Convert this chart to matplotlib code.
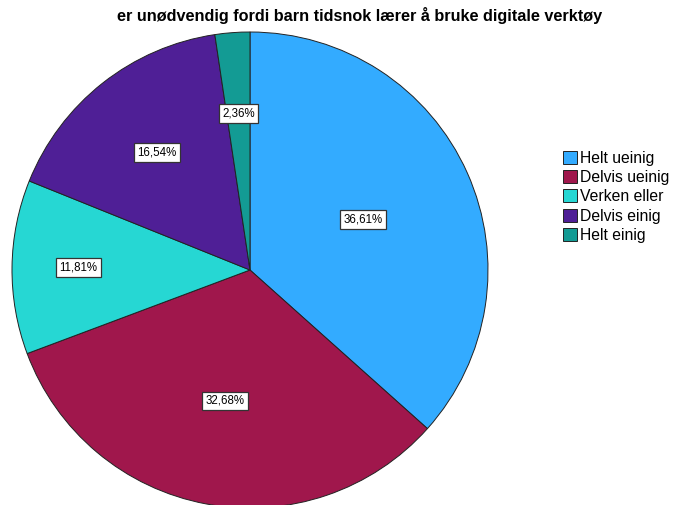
import numpy as np
import matplotlib
matplotlib.use("Agg")
import matplotlib.pyplot as plt

plt.rcParams["font.family"] = ["Liberation Sans", "DejaVu Sans"]

title = "er unødvendig fordi barn tidsnok lærer å bruke digitale verktøy"
categories = ["Helt ueinig", "Delvis ueinig", "Verken eller", "Delvis einig", "Helt einig"]
percent = [36.61, 32.68, 11.81, 16.54, 2.36]
colors = ["#33abff", "#a0174c", "#26d7d3", "#4f1f96", "#139b94"]
label_r = [0.52, 0.56, 0.72, 0.63, 0.66]   # SPSS puts labels at uneven radii

fig = plt.figure(figsize=(6.8, 5.05), dpi=100)
W, H = 680, 505
cx, cy, R = 250, 270, 238
ax = fig.add_axes([(cx - R) / W, (H - cy - R) / H, 2 * R / W, 2 * R / H])

wedges, _ = ax.pie(percent, colors=colors, startangle=90, counterclock=False,
                   radius=1, wedgeprops=dict(edgecolor="#222222", linewidth=0.7))
ax.set_xlim(-1, 1); ax.set_ylim(-1, 1); ax.set_aspect("equal")
ax.axis("off")

for w, p, r in zip(wedges, percent, label_r):
    ang = np.deg2rad((w.theta1 + w.theta2) / 2)
    ax.text(r * np.cos(ang), r * np.sin(ang), f"{p:.2f}%".replace(".", ","),
            ha="center", va="center", fontsize=8.3,
            bbox=dict(boxstyle="square,pad=0.3", fc="white", ec="#333333", lw=0.9))

fig.text(360 / W, 1 - 15 / H, title, ha="center", va="center",
         fontsize=11.7, fontweight="bold")

fig.legend(wedges, categories, loc="upper left", bbox_to_anchor=(555 / W, 1 - 143 / H),
           frameon=False, fontsize=11.3, handlelength=0.9, handleheight=0.9,
           handletextpad=0.2, labelspacing=0.27, borderpad=0)

fig.savefig("out.png", dpi=100)
